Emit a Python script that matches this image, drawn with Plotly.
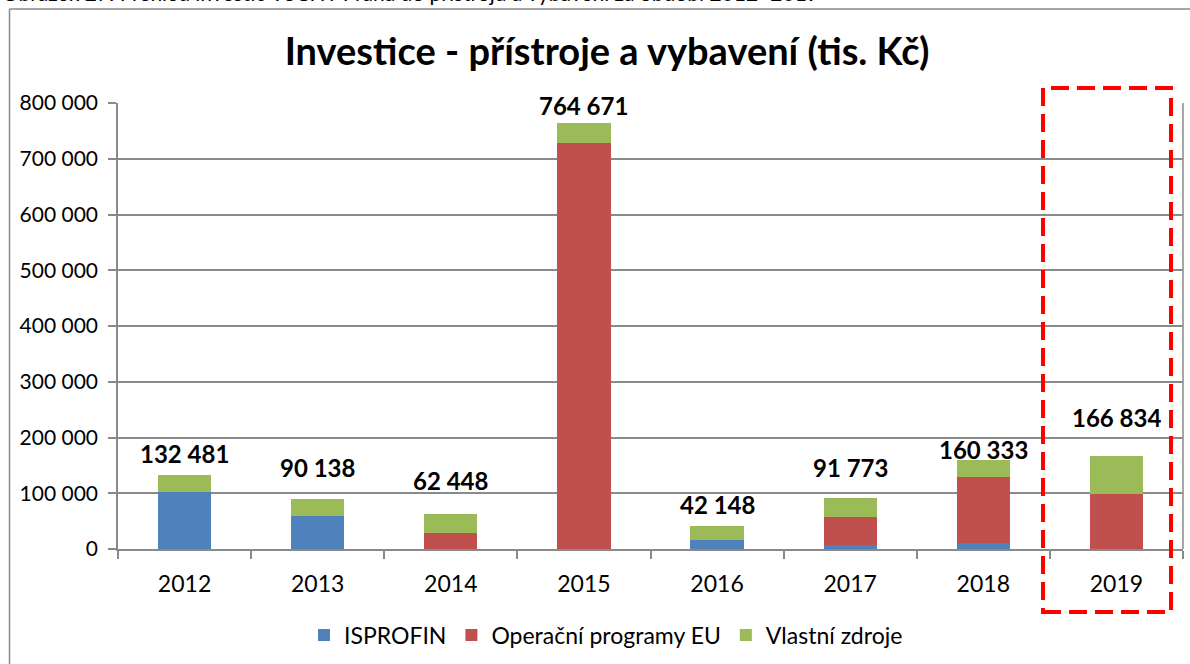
import plotly.graph_objects as go

years = ["2012", "2013", "2014", "2015", "2016", "2017", "2018", "2019"]
isprofin = [102000, 60000, 0, 0, 16000, 6600, 10800, 0]
op_eu = [0, 0, 29000, 728000, 0, 51000, 118500, 98200]
vlastni = [30481, 30138, 33448, 36671, 26148, 34173, 31033, 68634]
totals = [132481, 90138, 62448, 764671, 42148, 91773, 160333, 166834]
y_ticks = [0, 100000, 200000, 300000, 400000, 500000, 600000, 700000, 800000]

series_names = ["ISPROFIN", "Operační programy EU", "Vlastní zdroje"]
colors = ["#4F81BD", "#C0504D", "#9BBB59"]

# style: vertical shift of each total label above its bar (px)
label_shift_px = [22, 31, 34, 17, 21, 30, 10, 38]

FONT = "Lato"

fig = go.Figure()
for name, vals, col in zip(series_names, [isprofin, op_eu, vlastni], colors):
    fig.add_trace(go.Bar(x=years, y=vals, name=name, marker=dict(color=col, line=dict(width=0))))

for i, (tot, sh) in enumerate(zip(totals, label_shift_px)):
    fig.add_annotation(x=i, y=tot, xref="x", yref="y", text=f"{tot:,}".replace(",", " "),
                       showarrow=False, yanchor="middle", yshift=sh,
                       font=dict(family=FONT, size=24, color="black", weight="bold"))

# geometry helpers (figure px -> paper)
W, H = 1190, 664
L, R, T, B = 118, 1183, 103, 549
def px(xp):
    return (xp - L) / (R - L)
def py(yp):
    return (B - yp) / (B - T)

FRAME = dict(color="#8a8a8a", width=1.5)
# outer chart frame (left and top edges; the rest lies outside the picture)
fig.add_shape(type="line", xref="paper", yref="paper", x0=px(9.5), x1=px(9.5), y0=py(700), y1=py(9), line=FRAME)
fig.add_shape(type="line", xref="paper", yref="paper", x0=px(9.5), x1=px(1210), y0=py(9), y1=py(9), line=FRAME)
# right border of plot area
fig.add_shape(type="line", xref="paper", yref="paper", x0=1, x1=1, y0=0, y1=1, line=FRAME)
# red dashed highlight box
fig.add_shape(type="rect", xref="paper", yref="paper", x0=px(1043), x1=px(1171), y0=py(612), y1=py(88),
              line=dict(color="#FF0000", width=4, dash="18px,8px"), fillcolor="rgba(0,0,0,0)")

# cut-off caption at the very top
fig.add_annotation(xref="paper", yref="paper", x=px(0), y=py(-7), xanchor="left", yanchor="middle",
                   text="Obrázek 27: Přehled investic VŠCHT Praha do přístrojů a vybavení za období 2012–2019",
                   showarrow=False, font=dict(family=FONT, size=21, color="black"))

fig.update_layout(
    width=W, height=H,
    margin=dict(l=L, r=W - R, t=T, b=H - B),
    paper_bgcolor="white", plot_bgcolor="white",
    barmode="stack", bargap=0.6,
    separators=", ",
    title=dict(text="<b>Investice - přístroje a vybavení (tis. Kč)</b>", xref="container", x=607 / W,
               xanchor="center", y=1 - 52 / H, yanchor="middle",
               font=dict(family=FONT, size=38, color="black")),
    font=dict(family=FONT, color="black"),
    showlegend=True,
    legend=dict(orientation="h", x=px(606), xanchor="center", y=py(635), yanchor="middle",
                font=dict(family=FONT, size=23, color="black"), traceorder="normal"),
    xaxis=dict(type="category", range=[-0.5, 7.5], tickson="boundaries", ticks="outside", ticklen=8,
               tickcolor="#8a8a8a", tickwidth=1.5, showgrid=False, showline=True, linecolor="#8a8a8a",
               linewidth=1.5, tickfont=dict(family=FONT, size=23, color="black"), ticklabelstandoff=14),
    yaxis=dict(range=[0, 800000], tickvals=y_ticks, tickformat=",d", ticks="outside", ticklen=8,
               tickcolor="#8a8a8a", tickwidth=1.5, showgrid=True, gridcolor="#8a8a8a", gridwidth=1.5,
               showline=True, linecolor="#8a8a8a", linewidth=1.5, zeroline=False,
               tickfont=dict(family=FONT, size=21, color="black"), ticklabelstandoff=6),
)

fig.write_html("out.html", config={"displayModeBar": False},
               post_script="document.body.style.margin='0px';")
